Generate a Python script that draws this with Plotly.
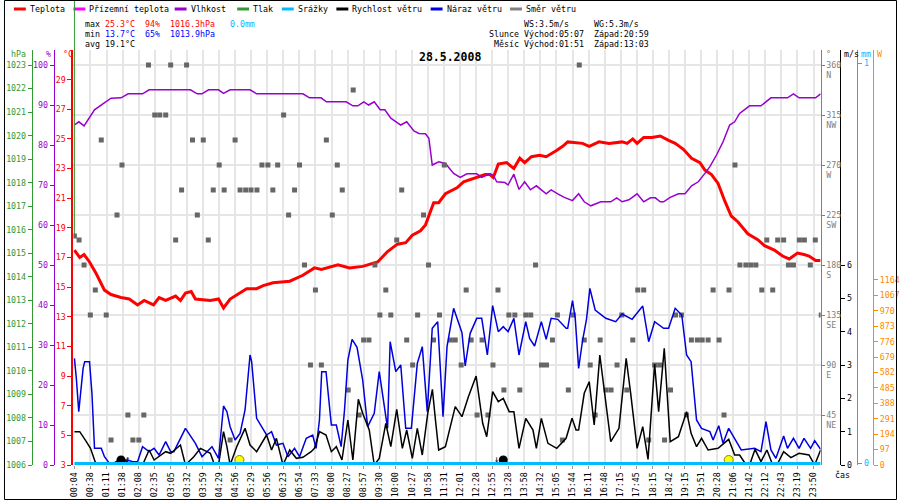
import plotly.graph_objects as go

# ---- data (x in units of the time-label spacing) ----
times = ["00:04", "00:38", "01:11", "01:38", "02:08", "02:35", "03:05", "03:32", "03:59",
         "04:29", "04:56", "05:29", "05:56", "06:23", "06:54", "07:33", "08:00", "08:27",
         "08:57", "09:30", "10:00", "10:27", "10:58", "11:31", "12:01", "12:28", "12:55",
         "13:28", "13:58", "14:32", "15:05", "15:44", "16:11", "16:48", "17:15", "17:45",
         "18:15", "18:42", "19:15", "19:51", "20:28", "21:06", "21:42", "22:12", "22:43",
         "23:19", "23:50"]

# Teplota (°C)
temp_pts = [
    (0.00, 17.5), (0.33, 17.0), (0.60, 17.2), (0.94, 16.7), (1.36, 15.9), (1.87, 14.8),
    (2.28, 14.5), (2.90, 14.3), (3.41, 14.2), (3.93, 13.8), (4.34, 14.1), (4.92, 13.8),
    (5.27, 14.3), (5.68, 14.1), (6.30, 14.4), (6.60, 14.1), (6.91, 14.6), (7.27, 14.7),
    (7.53, 14.2), (8.46, 14.1), (8.97, 14.2), (9.28, 13.6), (9.69, 14.2), (10.31, 14.6),
    (10.72, 14.9), (11.34, 14.9), (11.75, 15.1), (12.36, 15.3), (13.40, 15.4), (14.22, 15.8),
    (14.94, 16.3), (15.37, 16.2), (16.40, 16.5), (17.12, 16.3), (17.94, 16.4), (18.25, 16.5),
    (18.87, 16.7), (19.49, 17.4), (20.10, 17.9), (20.62, 18.0), (21.03, 18.5), (21.54, 18.8),
    (21.85, 19.2), (22.36, 20.7), (22.67, 20.7), (23.09, 21.3), (23.81, 21.7), (24.22, 22.1),
    (25.04, 22.4), (25.56, 22.6), (25.86, 22.6), (26.07, 22.4), (26.38, 23.3), (26.90, 23.4),
    (27.35, 23.0), (27.72, 23.7), (28.02, 23.4), (28.44, 23.8), (28.95, 23.9), (29.36, 23.8),
    (29.98, 24.2), (30.39, 24.5), (30.70, 24.8), (31.62, 24.7), (32.04, 24.5), (32.65, 24.8),
    (33.27, 24.7), (34.09, 24.8), (34.40, 24.7), (34.75, 25.0), (35.02, 24.7), (35.43, 25.1),
    (35.94, 25.1), (36.46, 25.2), (36.98, 24.9), (37.39, 24.7), (37.90, 24.3), (38.41, 23.7),
    (38.93, 23.4), (39.24, 22.9), (39.65, 22.6), (40.06, 22.0), (40.48, 20.8), (40.88, 19.8),
    (41.30, 19.4), (41.91, 18.6), (42.53, 18.2), (42.95, 17.8), (43.56, 17.5), (44.07, 17.1),
    (44.49, 16.9), (45.00, 17.3), (45.41, 17.2), (45.72, 17.1), (46.13, 16.8), (46.44, 16.8),
]

# Vlhkost (%)
hum_pts = [
    (0.00, 85.0), (0.27, 85.8), (0.60, 84.8), (0.85, 86.3), (1.25, 88.8), (1.77, 90.3),
    (2.28, 91.7), (2.90, 91.8), (3.35, 92.8), (4.24, 92.8), (4.65, 93.8), (7.22, 93.8),
    (7.64, 92.8), (7.94, 92.8), (8.35, 93.8), (8.97, 93.8), (9.28, 92.9), (9.69, 93.8),
    (10.93, 93.8), (11.34, 92.8), (14.22, 92.8), (14.63, 91.8), (15.35, 91.8), (15.68, 90.8),
    (16.91, 90.8), (17.33, 89.8), (17.64, 89.8), (18.01, 90.8), (18.31, 90.0), (18.66, 90.8),
    (19.03, 88.8), (19.32, 88.8), (19.69, 86.7), (20.31, 85.0), (20.68, 85.8), (21.13, 83.5),
    (21.44, 82.9), (21.85, 82.8), (22.06, 81.7), (22.27, 75.0), (22.67, 75.8), (23.09, 75.4),
    (23.60, 72.9), (24.01, 71.9), (24.43, 72.8), (25.04, 72.8), (25.35, 71.9), (25.86, 72.8),
    (26.07, 72.5), (26.28, 70.8), (26.79, 70.6), (26.99, 70.0), (27.35, 72.7), (27.67, 68.9),
    (28.02, 70.8), (28.38, 68.8), (28.75, 69.8), (29.36, 67.8), (29.67, 68.8), (30.08, 67.8),
    (30.49, 66.9), (31.00, 66.1), (31.38, 67.8), (31.73, 65.8), (32.14, 64.8), (32.76, 65.8),
    (33.38, 65.8), (33.75, 66.8), (34.09, 65.8), (34.51, 66.3), (35.02, 67.8), (35.43, 65.8),
    (35.85, 66.8), (36.15, 66.8), (36.46, 65.8), (36.67, 65.8), (37.08, 66.9), (37.59, 67.8),
    (38.00, 67.8), (38.41, 69.8), (38.83, 70.8), (39.24, 72.9), (39.55, 74.6), (39.96, 77.5),
    (40.37, 80.8), (40.78, 85.0), (41.09, 85.8), (41.40, 87.9), (42.02, 89.8), (42.73, 89.8),
    (43.35, 91.8), (44.38, 91.8), (44.75, 92.8), (45.10, 91.8), (46.13, 91.8), (46.44, 92.8),
]

# Rychlost větru (m/s)
wind_pts = [
    (0.00, 1.0), (0.33, 1.0), (0.74, 0.7), (1.00, 0.5), (1.36, 0.0), (2.28, 0.0), (2.90, 0.2),
    (3.31, 0.1), (3.62, 0.0), (4.24, 0.0), (4.65, 0.45), (4.96, 0.15), (5.68, 0.4), (5.99, 0.35),
    (6.60, 0.6), (6.91, 0.0), (7.43, 0.25), (7.84, 0.5), (8.46, 0.35), (8.70, 0.03), (8.97, 0.0),
    (9.28, 1.0), (9.49, 0.55), (9.69, 0.0), (10.10, 0.55), (10.62, 1.1), (10.93, 0.6),
    (11.34, 0.4), (11.96, 0.9), (12.27, 0.45), (12.57, 0.8), (12.98, 0.0), (13.40, 0.45),
    (13.81, 0.2), (14.22, 0.23), (14.73, 0.4), (14.94, 0.5), (15.25, 1.0), (15.66, 0.9),
    (15.99, 0.4), (16.30, 0.55), (16.65, 0.15), (17.02, 1.35), (17.33, 0.15), (17.67, 1.97),
    (17.94, 1.55), (18.35, 1.05), (18.66, 0.0), (18.97, 0.2), (19.38, 1.25), (19.69, 0.55),
    (20.06, 1.67), (20.41, 0.5), (20.68, 1.05), (21.03, 0.2), (21.34, 1.1), (21.65, 0.3),
    (21.99, 1.55), (22.28, 2.27), (22.47, 1.35), (22.67, 0.45), (23.09, 0.55), (23.70, 1.75),
    (24.12, 1.45), (24.52, 2.05), (25.00, 2.67), (25.41, 1.25), (25.66, 0.85), (26.03, 2.2),
    (26.38, 1.9), (26.69, 2.0), (27.06, 1.6), (27.35, 1.6), (27.67, 0.5), (28.09, 1.4),
    (28.54, 1.05), (28.75, 0.5), (29.06, 1.4), (29.47, 0.65), (30.02, 0.5), (30.60, 0.8),
    (30.97, 1.4), (31.22, 1.05), (31.38, 1.05), (31.73, 2.15), (32.04, 2.5), (32.35, 1.2),
    (32.70, 3.3), (32.96, 2.25), (33.38, 0.7), (33.89, 1.1), (34.34, 3.2), (34.62, 2.15),
    (35.02, 0.5), (35.37, 1.15), (35.70, 0.17), (36.11, 3.03), (36.36, 1.6), (36.71, 3.5),
    (37.08, 0.7), (37.59, 0.85), (38.10, 1.6), (38.38, 0.95), (38.72, 0.55), (39.03, 0.8),
    (39.44, 0.45), (40.06, 0.5), (40.72, 0.77), (41.09, 0.3), (41.40, 0.3), (41.81, 0.0),
    (42.02, 0.0), (42.36, 0.47), (42.73, 0.1), (43.10, 0.45), (43.46, 0.0), (43.72, 0.0),
    (44.14, 0.4), (44.59, 0.22), (45.10, 0.35), (45.72, 0.3), (46.07, 0.0), (46.44, 0.45),
]

# Náraz větru (m/s)
gust_pts = [
    (0.00, 3.2), (0.12, 2.6), (0.27, 1.6), (0.39, 2.1), (0.54, 2.9), (0.64, 3.1), (0.94, 3.1),
    (1.09, 2.15), (1.25, 0.5), (1.67, 0.5), (1.87, 0.25), (2.18, 0.05), (2.49, 0.0), (2.90, 0.15),
    (3.31, 0.15), (3.62, 0.1), (3.93, 0.1), (4.24, 0.55), (4.65, 0.4), (4.96, 0.5), (5.27, 0.3),
    (5.68, 0.7), (5.99, 0.4), (6.19, 0.4), (6.91, 1.1), (7.53, 0.65), (7.94, 0.25), (8.56, 0.55),
    (8.97, 0.2), (9.28, 1.77), (9.49, 1.6), (9.69, 1.15), (10.00, 0.75), (10.31, 0.95),
    (10.62, 1.65), (10.93, 3.3), (11.03, 3.1), (11.34, 1.4), (11.65, 1.15), (11.96, 0.9),
    (12.27, 1.0), (12.57, 0.6), (12.98, 0.65), (13.29, 0.25), (13.70, 0.5), (14.01, 0.25),
    (14.43, 0.8), (14.83, 0.9), (15.04, 0.5), (15.25, 1.35), (15.39, 2.8), (15.66, 2.8),
    (15.99, 1.2), (16.30, 1.2), (16.60, 0.55), (16.81, 1.65), (17.02, 3.15), (17.28, 3.77),
    (17.59, 3.53), (17.94, 2.55), (18.25, 1.15), (18.66, 1.55), (18.97, 2.8), (19.18, 2.15),
    (19.49, 1.1), (19.65, 3.7), (20.00, 2.8), (20.31, 3.0), (20.62, 1.1), (20.97, 1.1),
    (21.34, 3.05), (21.65, 3.55), (21.96, 1.6), (22.27, 4.1), (22.61, 4.3), (22.94, 1.45),
    (23.19, 3.55), (23.60, 4.7), (24.12, 3.97), (24.32, 2.97), (24.63, 3.95), (25.04, 4.4),
    (25.35, 4.4), (25.70, 3.3), (26.03, 4.78), (26.38, 4.0), (26.69, 4.15), (26.99, 4.0),
    (27.35, 4.4), (27.67, 3.3), (28.09, 4.3), (28.33, 3.8), (28.64, 3.57), (29.06, 4.3),
    (29.36, 3.77), (29.67, 4.4), (30.08, 4.37), (30.60, 4.1), (30.70, 4.1), (31.00, 4.93),
    (31.17, 4.4), (31.38, 2.9), (31.63, 3.75), (31.87, 4.37), (32.08, 5.3), (32.41, 4.65),
    (33.07, 4.4), (33.69, 4.3), (34.09, 4.53), (34.71, 4.37), (35.37, 4.77), (35.74, 3.7),
    (36.11, 4.3), (36.67, 4.1), (36.98, 4.1), (37.39, 4.7), (37.80, 4.5), (38.10, 3.3),
    (38.38, 3.1), (38.72, 1.35), (39.03, 1.1), (39.55, 1.0), (39.75, 0.75), (40.10, 1.18),
    (40.37, 0.65), (40.72, 1.1), (41.50, 0.45), (42.33, 0.5), (42.73, 0.4), (43.04, 1.3),
    (43.35, 0.45), (43.66, 0.2), (44.14, 0.87), (44.38, 0.5), (44.75, 0.8), (45.10, 0.5),
    (45.41, 0.8), (45.82, 0.5), (46.07, 0.73), (46.44, 0.47),
]

# Směr větru (°)
dir_pts = [
    (0.00, 206), (0.29, 202.5), (0.60, 180), (0.99, 135), (1.30, 157.5), (1.67, 292.5),
    (1.98, 135), (2.28, 22.5), (2.65, 225), (2.96, 270), (3.33, 45), (3.64, 22.5),
    (4.01, 22.5), (4.32, 45), (4.61, 360), (5.00, 315), (5.31, 315), (5.68, 315),
    (5.99, 360), (6.30, 202.5), (6.67, 247.5), (6.98, 360), (7.35, 292.5), (7.65, 225),
    (8.02, 292.5), (8.33, 202.5), (8.64, 247.5), (9.01, 270), (9.32, 247.5), (9.69, 22.5),
    (10.00, 292.5), (10.31, 247.5), (10.66, 247.5), (10.99, 247.5), (11.36, 247.5), (11.67, 270),
    (12.04, 270), (12.35, 247.5), (12.65, 270), (13.02, 315), (13.33, 225), (13.70, 247.5),
    (14.01, 270), (14.32, 180), (14.69, 90), (15.00, 157.5), (15.37, 90), (15.68, 292.5),
    (16.05, 225), (16.36, 270), (16.67, 247.5), (17.04, 67.5), (17.35, 337.5), (17.72, 45),
    (18.00, 112.5), (18.33, 112.5), (18.70, 180), (19.01, 135), (19.38, 157.5), (19.69, 135),
    (20.06, 202.5), (20.37, 247.5), (20.68, 112.5), (21.05, 90), (21.36, 135), (21.73, 225),
    (22.04, 180), (22.35, 112.5), (22.72, 135), (23.02, 270), (23.40, 112.5), (23.70, 112.5),
    (24.07, 90), (24.38, 157.5), (24.69, 112.5), (25.06, 45), (25.37, 112.5), (25.74, 45),
    (26.05, 90), (26.36, 157.5), (26.73, 67.5), (27.04, 135), (27.41, 135), (27.72, 67.5),
    (28.09, 135), (28.40, 135), (28.70, 180), (29.07, 90), (29.38, 90), (29.75, 112.5),
    (30.06, 135), (30.37, 22.5), (30.74, 67.5), (31.05, 135), (31.42, 360), (31.73, 112.5),
    (32.10, 90), (32.41, 45), (32.72, 112.5), (33.09, 67.5), (33.40, 67.5), (33.77, 90),
    (34.07, 135), (34.38, 67.5), (34.75, 112.5), (35.06, 157.5), (35.43, 157.5), (35.74, 22.5),
    (36.11, 90), (36.42, 90), (36.73, 22.5), (37.10, 67.5), (37.41, 135), (37.78, 135),
    (38.09, 45), (38.40, 112.5), (38.77, 112.5), (39.07, 112.5), (39.44, 112.5), (39.75, 157.5),
    (40.12, 112.5), (40.43, 45), (40.74, 157.5), (41.11, 270), (41.42, 180), (41.79, 180),
    (42.10, 180), (42.41, 180), (42.78, 157.5), (43.09, 202.5), (43.46, 157.5), (43.77, 202.5),
    (44.14, 202.5), (44.44, 180), (44.75, 180), (45.12, 202.5), (45.43, 202.5), (45.80, 180),
    (46.11, 202.5), (46.48, 135),
]

# Srážky (mm) - nothing fell all day
rain_x = [0.0, 46.44]
rain_mm = [0.0, 0.0]

# Tlak: only a vertical stroke at the very start is drawn in the picture
pressure_x = [0.0, 0.0]
pressure_hpa = [1015.7, 1024.5]

# sun / moon events (x position, marker height in m/s)
sun_x = [10.27, 40.72]
moon_x = [2.90, 26.69]
moon_arrow_x = [3.31, 26.28]
moon_arrow_txt = ["↑", "↓"]
event_y = 0.15

# header values
t_max, h_max, p_max, r_max = "25.3°C", "94%", "1016.3hPa", "0.0mm"
t_min, h_min, p_min = "13.7°C", "65%", "1013.9hPa"
t_avg = "19.1°C"
ws_max, wg_max = "3.5m/s", "5.3m/s"
sun_rise, sun_set = "05:07", "20:59"
moon_rise, moon_set = "01:51", "13:03"

# ---- styling ----
RED = "#ff0000"
MAGENTA = "#ff00ff"
PURPLE = "#9900cc"
GREEN = "#339933"
CYAN = "#00bbff"
BLUE = "#0000dd"
GRAY = "#808080"
ORANGE = "#ff8800"
GRID = "#e6e6e6"
MONO = "DejaVu Sans Mono"
FS = 8.3
NB = "\u00a0"

W, H = 900, 500
TOP, BOTTOM = 50, 465


def px(x):
    return x / W


def py(y):
    return (BOTTOM - y) / (BOTTOM - TOP)


def xs(pts):
    return [p[0] for p in pts]


def ys(pts):
    return [p[1] for p in pts]


def yax(color, rng, **kw):
    d = dict(range=rng, color=color, showline=True, linecolor=color, linewidth=1,
             ticks="outside", ticklen=4, tickcolor=color,
             tickfont=dict(family=MONO, size=FS, color=color),
             showgrid=False, zeroline=False, fixedrange=True)
    d.update(kw)
    return d


fig = go.Figure()

fig.add_trace(go.Scatter(x=pressure_x, y=pressure_hpa, mode="lines",
                         line=dict(color=GREEN, width=1), yaxis="y3"))
# solar radiation axis (W) has no values this day
fig.add_trace(go.Scatter(x=[], y=[], mode="lines", line=dict(color=ORANGE), yaxis="y7"))
fig.add_trace(go.Scatter(x=xs(temp_pts), y=ys(temp_pts), mode="lines",
                         line=dict(color=RED, width=3), yaxis="y"))
fig.add_trace(go.Scatter(x=xs(hum_pts), y=ys(hum_pts), mode="lines",
                         line=dict(color=PURPLE, width=1.5), yaxis="y2"))
fig.add_trace(go.Scatter(x=xs(dir_pts), y=ys(dir_pts), mode="markers",
                         marker=dict(symbol="square", size=5, color="#666666"), yaxis="y4"))
fig.add_trace(go.Scatter(x=xs(gust_pts), y=ys(gust_pts), mode="lines",
                         line=dict(color=BLUE, width=1.5), yaxis="y5"))
fig.add_trace(go.Scatter(x=xs(wind_pts), y=ys(wind_pts), mode="lines",
                         line=dict(color="black", width=1.5), yaxis="y5"))
fig.add_trace(go.Scatter(x=rain_x, y=rain_mm, mode="lines",
                         line=dict(color=CYAN, width=3), yaxis="y6"))
fig.add_trace(go.Scatter(x=sun_x, y=[event_y] * len(sun_x), mode="markers",
                         marker=dict(size=9, color="#ffff00", line=dict(color="#888800", width=1)),
                         yaxis="y5"))
fig.add_trace(go.Scatter(x=moon_x, y=[event_y] * len(moon_x), mode="markers",
                         marker=dict(size=9, color="black"), yaxis="y5"))
fig.add_trace(go.Scatter(x=moon_arrow_x, y=[event_y] * len(moon_arrow_x), mode="text",
                         text=moon_arrow_txt, textfont=dict(family=MONO, size=9, color="black"),
                         yaxis="y5"))

dir_vals = [45, 90, 135, 180, 225, 270, 315, 360]
dir_names = ["NE", "E", "SE", "S", "SW", "W", "NW", "N"]
w_vals = [0, 97, 194, 291, 388, 485, 582, 679, 776, 873, 970, 1067, 1164]

fig.update_layout(
    width=W, height=H,
    margin=dict(l=0, r=0, t=TOP, b=H - BOTTOM),
    paper_bgcolor="white", plot_bgcolor="white",
    showlegend=False,
    xaxis=dict(domain=[px(70), px(823)], range=[-0.06, 46.44],
               tickvals=list(range(len(times))), ticktext=times, tickangle=-90,
               tickfont=dict(family=MONO, size=FS, color="black"),
               ticks="outside", ticklen=3, tickcolor="#999999",
               showgrid=True, gridcolor=GRID, gridwidth=1.5,
               showline=False, zeroline=False, fixedrange=True),
    yaxis=yax(RED, [3, 31], anchor="x", side="left", linewidth=2,
              tickvals=list(range(3, 30, 2))),
    yaxis2=yax(PURPLE, [0, 103.75], overlaying="y", anchor="free", position=px(50),
               side="left", tickvals=list(range(0, 101, 10))),
    yaxis3=yax(GREEN, [1006, 1023.64], overlaying="y", anchor="free", position=px(28),
               side="left", tickvals=list(range(1006, 1024))),
    yaxis4=yax(GRAY, [0, 373.5], overlaying="y", anchor="x", side="right",
               tickvals=dir_vals,
               ticktext=[f"{v}<br>{n}" for v, n in zip(dir_vals, dir_names)],
               ticklen=3, ticklabelshift=5,
               showgrid=True, gridcolor=GRID, gridwidth=1.5),
    yaxis5=yax("black", [0, 12.45], overlaying="y", anchor="free", position=px(843),
               side="right", tickvals=list(range(0, 7))),
    yaxis6=yax(CYAN, [-0.00375, 1.03375], overlaying="y", anchor="free", position=px(860),
               side="right", tickvals=[0, 1]),
    yaxis7=yax(ORANGE, [0, 2611], overlaying="y", anchor="free", position=px(876),
               side="right", tickvals=w_vals),
)

annotations = []
shapes = []


def label(x, y, text, color="black", size=FS, anchor="left"):
    annotations.append(dict(x=px(x), y=py(y), xref="paper", yref="paper", text=text,
                            showarrow=False, xanchor=anchor, yanchor="middle",
                            font=dict(family=MONO, size=size, color=color)))


# legend row
legend_items = [
    ("Teplota", RED, 10), ("Přízemní teplota", MAGENTA, 70), ("Vlhkost", PURPLE, 172),
    ("Tlak", GREEN, 235), ("Srážky", CYAN, 280), ("Rychlost větru", "black", 335),
    ("Náraz větru", BLUE, 430), ("Směr větru", GRAY, 510),
]
for name, col, x0 in legend_items:
    shapes.append(dict(type="line", xref="paper", yref="paper", x0=px(x0), x1=px(x0 + 12),
                       y0=py(9), y1=py(9), line=dict(color=col, width=3)))
    label(x0 + 14, 9, name)


def sp(s):
    return s.replace(" ", NB)


label(80, 24, sp("max ") + f"<span style='color:{RED}'>" + sp(f"{t_max}  {h_max}  {p_max}")
      + "</span>" + sp("   ") + f"<span style='color:{CYAN}'>{r_max}</span>")
label(80, 34, sp("min ") + f"<span style='color:#0000ff'>" + sp(f"{t_min}  {h_min}  {p_min}")
      + "</span>")
label(80, 44, sp(f"avg {t_avg}"))
label(487, 24, sp(f"       WS:{ws_max}     WG:{wg_max}"))
label(487, 34, sp(f"Slunce Východ:{sun_rise}  Západ:{sun_set}"))
label(487, 44, sp(f" Měsíc Východ:{moon_rise}  Západ:{moon_set}"))

label(449, 57, "<b>28.5.2008</b>", size=11.5, anchor="center")

# axis captions
label(5, 54, "hPa", GREEN)
label(40, 54, "%", PURPLE)
label(57, 54, "°C", RED)
label(826, 54, "°", GRAY)
label(845, 54, "m/s", "black")
label(862, 54, "mm", CYAN)
label(878, 54, "W", ORANGE)
label(836, 475, "čas", "black")

# the green pressure stroke carries on above the plot, through the header
shapes.append(dict(type="line", xref="paper", yref="paper", x0=px(71), x1=px(71),
                   y0=1, y1=py(0), line=dict(color=GREEN, width=1)))
# frame round the whole picture
shapes.append(dict(type="rect", xref="paper", yref="paper", x0=px(0.5), x1=px(899.5),
                   y0=py(499.5), y1=py(0.5), line=dict(color="black", width=1)))

fig.update_layout(annotations=annotations, shapes=shapes)

# the page body has a default 8px margin; drop it so the figure fills the window
fig.write_html("out.html", config={"displayModeBar": False},
               post_script="document.body.style.margin='0';")
